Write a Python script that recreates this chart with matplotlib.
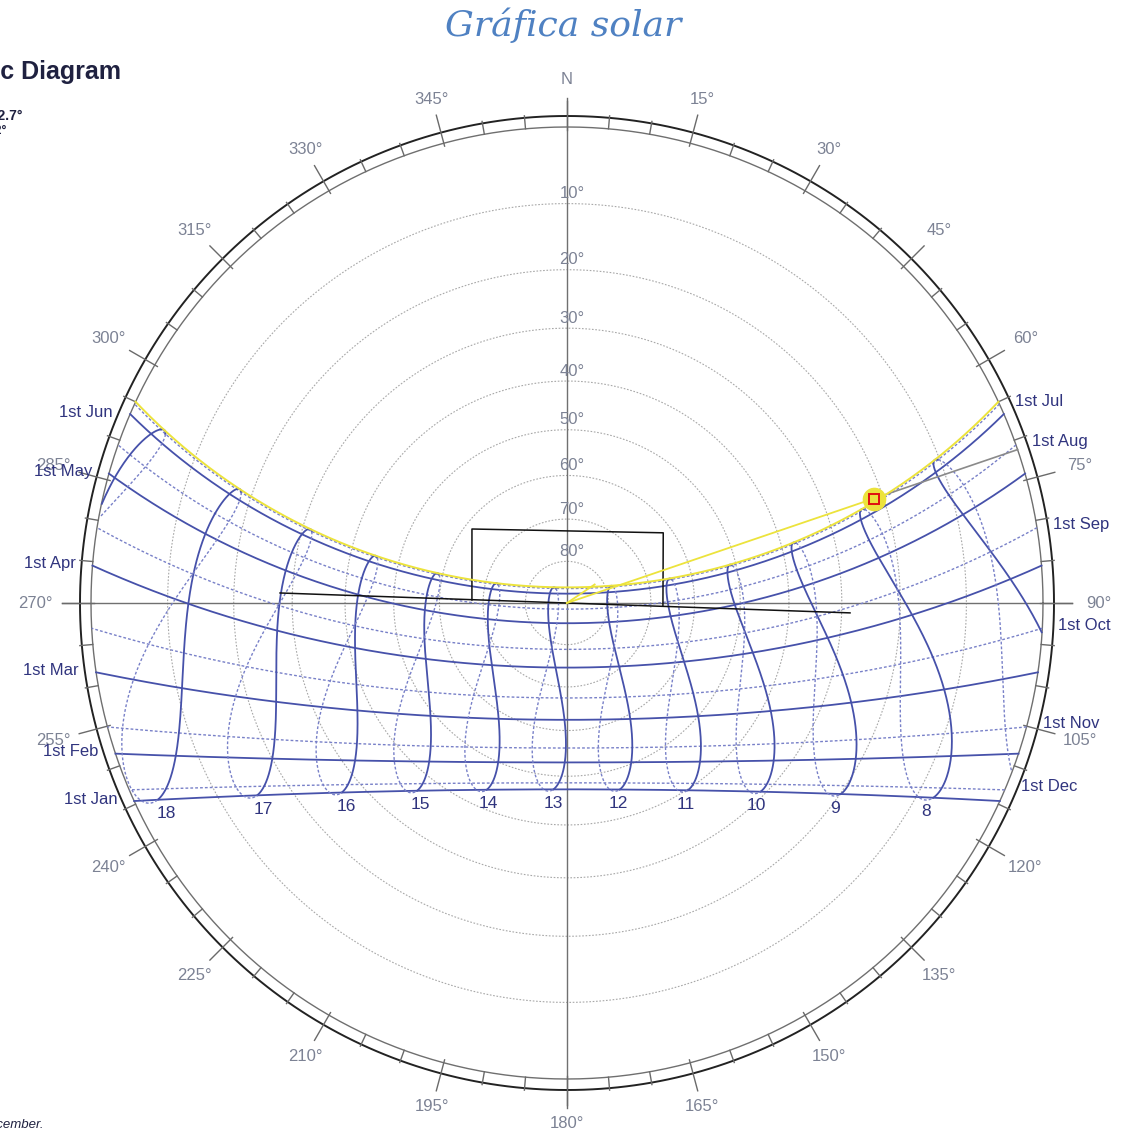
import numpy as np
import matplotlib
matplotlib.use("Agg")
import matplotlib.pyplot as plt

# ---------------- data ----------------
LAT, LON, TZ = 19.7, -101.2, -6.0          # site (deg, deg, hours)
month_names = ["Jan", "Feb", "Mar", "Apr", "May", "Jun",
               "Jul", "Aug", "Sep", "Oct", "Nov", "Dec"]
month_first_doy = [1, 32, 60, 91, 121, 152, 182, 213, 244, 274, 305, 335]
hours_drawn = [6, 7, 8, 9, 10, 11, 12, 13, 14, 15, 16, 17, 18, 19]
hour_labels = [8, 9, 10, 11, 12, 13, 14, 15, 16, 17, 18]
current_doy = 172                            # yellow path (current date)
sun_az, sun_alt = 71.2, 21.5                 # current sun position (deg)
alt_rings = [10, 20, 30, 40, 50, 60, 70, 80]
az_label_angles = list(range(15, 360, 15))
# shading object outline (azimuth, altitude)
mask_line_az, mask_line_alt = [272.0, 92.0], [27.8, 28.5]
mask_rect_az = [271.8, 307.9, 53.9, 91.8]
mask_rect_alt = [67.4, 61.6, 61.9, 67.2]

# ---------------- geometry ----------------
W, H_PX = 1126, 1135
CX, CY, R = 567.0, 603.0, 476.0
R_OUT = 487.0

def proj(az, alt):
    az = np.radians(np.asarray(az, float))
    alt = np.asarray(alt, float)
    r = R * np.tan(np.radians(90.0 - alt) / 2.0)
    return CX + r * np.sin(az), CY - r * np.cos(az)

def decl_eot(n, clock_h=12.0):
    g = 2 * np.pi / 365.0 * (n - 1 + (clock_h - 12) / 24.0)
    d = (0.006918 - 0.399912 * np.cos(g) + 0.070257 * np.sin(g)
         - 0.006758 * np.cos(2 * g) + 0.000907 * np.sin(2 * g)
         - 0.002697 * np.cos(3 * g) + 0.00148 * np.sin(3 * g))
    e = 229.18 * (0.000075 + 0.001868 * np.cos(g) - 0.032077 * np.sin(g)
                  - 0.014615 * np.cos(2 * g) - 0.040849 * np.sin(2 * g))
    return d, e

def altaz(decl, Hrad):
    lat = np.radians(LAT)
    s = np.sin(lat) * np.sin(decl) + np.cos(lat) * np.cos(decl) * np.cos(Hrad)
    alt = np.degrees(np.arcsin(np.clip(s, -1, 1)))
    az = np.degrees(np.arctan2(-np.sin(Hrad),
                               np.tan(decl) * np.cos(lat) - np.sin(lat) * np.cos(Hrad))) % 360
    return az, alt

def sun_at(n, clock_h):
    d, e = decl_eot(n, clock_h)
    tst = clock_h * 60 + e + 4 * LON - 60 * TZ
    Hrad = np.radians(tst / 4.0 - 180.0)
    return altaz(d, Hrad)

def day_path(n):
    d, _ = decl_eot(n)
    lat = np.radians(LAT)
    H0 = np.arccos(np.clip(-np.tan(lat) * np.tan(d), -1, 1))
    Hs = np.linspace(-H0, H0, 500)
    az, alt = altaz(d, Hs)
    alt = np.maximum(alt, 0)
    return proj(az, alt)

# ---------------- figure ----------------
fig = plt.figure(figsize=(W / 100, H_PX / 100), dpi=100)
ax = fig.add_axes([0, 0, 1, 1])
ax.set_xlim(0, W)
ax.set_ylim(H_PX, 0)
ax.axis("off")

FONT = "Liberation Sans"
BLUE = "#4651aa"
BLUE_DOT = "#7880c8"
LBL = "#7c8294"
DARK = "#30347e"
YEL = "#ece33c"

t = np.linspace(0, 2 * np.pi, 721)
# altitude rings
for a in alt_rings:
    r = R * np.tan(np.radians(90 - a) / 2)
    ax.plot(CX + r * np.cos(t), CY + r * np.sin(t), color="#a8a8a8", lw=0.8,
            ls=(0, (1.5, 1.5)), zorder=1)
    ax.text(CX + 5, CY - r - 10, f"{a}°", ha="center", va="center",
            fontsize=12, color=LBL, family=FONT, zorder=6)

# horizon & outer ring
ax.plot(CX + R * np.cos(t), CY + R * np.sin(t), color="#6f6f6f", lw=1.0, zorder=3)
ax.plot(CX + R_OUT * np.cos(t), CY + R_OUT * np.sin(t), color="#222222", lw=1.4, zorder=3)

# ticks
for a in range(0, 360, 5):
    s, c = np.sin(np.radians(a)), np.cos(np.radians(a))
    if a % 15 == 0:
        r0, r1 = R - 3, R + 29
    else:
        r0, r1 = R, R_OUT + 2
    ax.plot([CX + r0 * s, CX + r1 * s], [CY - r0 * c, CY - r1 * c],
            color="#6a6a6a", lw=1.0, zorder=3)

# cross axes
ax.plot([CX, CX], [CY - 502, CY + 502], color="#707070", lw=1.0, zorder=2)
ax.plot([CX - 505, CX + 505], [CY, CY], color="#707070", lw=1.0, zorder=2)

# azimuth labels
for a in az_label_angles:
    s, c = np.sin(np.radians(a)), np.cos(np.radians(a))
    rr = 521 + 11 * s ** 2
    ax.text(CX + rr * s, CY - rr * c, f"{a}°", ha="center", va="center",
            fontsize=12, color=LBL, family=FONT, zorder=6)
ax.text(CX, CY - 523, "N", ha="center", va="center", fontsize=12,
        color=LBL, family=FONT, zorder=6)

# date lines
for i, n in enumerate(month_first_doy):
    x, y = day_path(n)
    solid = i < 6
    ax.plot(x, y, color=BLUE if solid else BLUE_DOT, lw=1.3 if solid else 1.0,
            ls="-" if solid else (0, (2, 1.5)), zorder=4)
    label = f"1st {month_names[i]}"
    if solid:
        ax.text(x[-1] - 17, y[-1] - 2, label, ha="right", va="center",
                fontsize=12, color=DARK, family=FONT, zorder=7)
    else:
        ax.text(x[0] + 16, y[0] - 3, label, ha="left", va="center",
                fontsize=12, color=DARK, family=FONT, zorder=7)

# hour analemmas
days_a = np.arange(1, 183)
days_b = np.arange(182, 367)
for h in hours_drawn:
    for days, solid in ((days_a, True), (days_b, False)):
        az, alt = sun_at(days.astype(float), float(h))
        x, y = proj(az, np.maximum(alt, 0))
        x = np.where(alt < 0, np.nan, x)
        y = np.where(alt < 0, np.nan, y)
        ax.plot(x, y, color=BLUE if solid else BLUE_DOT, lw=1.3 if solid else 1.0,
                ls="-" if solid else (0, (2, 1.5)), zorder=4)

for h in hour_labels:
    az, alt = sun_at(1.0, float(h))
    x, y = proj(az, max(alt, 0))
    ax.text(x - 0.02 * (x - CX), y + 14, str(h), ha="center", va="center",
            fontsize=12.5, color=DARK, family=FONT, zorder=7)

# shading object
mx, my = proj(mask_line_az, mask_line_alt)
ax.plot(mx, my, color="#111111", lw=1.1, zorder=5)
rx, ry = proj(mask_rect_az, mask_rect_alt)
ax.plot(rx, ry, color="#111111", lw=1.1, zorder=5)

# current date path + sun
x, y = day_path(current_doy)
ax.plot(x, y, color=YEL, lw=1.4, zorder=6)
sx, sy = proj(sun_az, sun_alt)
ax.plot([CX, sx], [CY, sy], color=YEL, lw=1.3, zorder=6)
hx, hy = proj(sun_az, 0)
ax.plot([sx, hx], [sy, hy], color="#8a8a8a", lw=1.2, zorder=5)
sx2, sy2 = proj(sun_az - 15, 82)
ax.plot([CX, sx2], [CY, sy2], color=YEL, lw=1.3, zorder=6)
ax.plot([sx], [sy], "o", ms=16, color=YEL, mec=YEL, zorder=8)
ax.plot([sx], [sy], "s", ms=6.5, mfc=YEL, mec="#e01010", mew=1.4, zorder=9)

# header texts
ax.text(563, 25, "Gráfica solar", ha="center", va="center", fontsize=26,
        style="italic", family="DejaVu Serif", color="#4f81c2")
ax.text(121, 72, "Stereographic Diagram", ha="right", va="center",
        fontsize=18, weight="bold", family=FONT, color="#1f2140")
ax.text(23, 115, "Sun Position: 71.2°, 22.7°", ha="right", va="center",
        fontsize=10, weight="bold", family=FONT, color="#1f2140")
ax.text(6, 131, "HSA: 71.2°", ha="right", va="center",
        fontsize=9, weight="bold", family=FONT, color="#1f2140")
ax.text(43, 1125, "Dotted lines: July-December.", ha="right", va="center",
        fontsize=9.5, style="italic", family=FONT, color="#1f2140")

fig.savefig("out.png", dpi=100)
